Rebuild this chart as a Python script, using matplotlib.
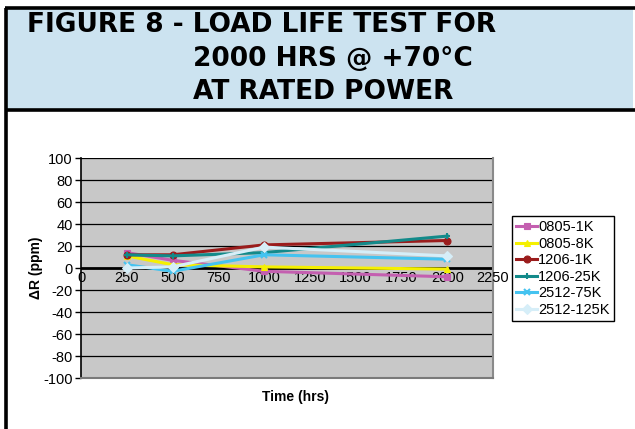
import matplotlib
matplotlib.use("Agg")
import matplotlib.pyplot as plt
from matplotlib.patches import Rectangle
from matplotlib.lines import Line2D

hours = [250, 500, 1000, 2000]
series_names = ["0805-1K", "0805-8K", "1206-1K", "1206-25K", "2512-75K", "2512-125K"]
v_0805_1k = [14, 7, -3, -8]
v_0805_8k = [11, 3, 1, -1]
v_1206_1k = [12, 12, 21, 25]
v_1206_25k = [12, 11, 14, 29]
v_2512_75k = [3, -3, 12, 8]
v_2512_125k = [0, 1, 19, 11]
values = [v_0805_1k, v_0805_8k, v_1206_1k, v_1206_25k, v_2512_75k, v_2512_125k]
colors = ["#c45fb0", "#f5f000", "#9a1c1c", "#138a8a", "#45c3f0", "#d6eef8"]
markers = ["s", "^", "o", "+", "x", "D"]
xticks = [0, 250, 500, 750, 1000, 1250, 1500, 1750, 2000, 2250]
yticks = list(range(-100, 101, 20))
title_lines = ["FIGURE 8 - LOAD LIFE TEST FOR", "2000 HRS @ +70°C", "AT RATED POWER"]

W, H = 635, 429
fig = plt.figure(figsize=(W / 100, H / 100), dpi=100)
fig.patch.set_facecolor("white")

def fx(px):
    return px / W

def fy(py):
    return 1 - py / H

# title box
fig.patches.append(Rectangle((fx(6), fy(110)), fx(627), (101) / H, transform=fig.transFigure,
                             facecolor="#cce3f0", edgecolor="none", zorder=0))
for (x0, y0, x1, y1) in [(5, 8, 635, 8), (5, 110, 635, 110), (5.5, 8, 5.5, 429)]:
    fig.lines.append(Line2D([fx(x0), fx(x1)], [fy(y0), fy(y1)], transform=fig.transFigure,
                            color="black", lw=2.6, solid_capstyle="butt"))

tfont = dict(family=["DejaVu Sans"], fontweight="bold", fontsize=19, color="black")
fig.text(fx(27), fy(25), title_lines[0], ha="left", va="center", **tfont)
fig.text(fx(193), fy(59), title_lines[1], ha="left", va="center", **tfont)
fig.text(fx(193), fy(92), title_lines[2], ha="left", va="center", **tfont)

# plot area
ax = fig.add_axes([fx(81), fy(378), fx(493) - fx(81), (378 - 158) / H])
ax.set_facecolor("#c8c8c8")
ax.set_xlim(0, 2250)
ax.set_ylim(-100, 100)
ax.spines["top"].set_visible(False)
ax.spines["right"].set_color("#8a8a8a")
ax.spines["right"].set_linewidth(1.5)
ax.spines["bottom"].set_color("#7a7a7a")
ax.spines["bottom"].set_linewidth(1.5)
ax.spines["left"].set_color("black")
ax.spines["left"].set_linewidth(1.2)

for yv in yticks:
    if yv == -100:
        continue
    ax.axhline(yv, color="black", lw=2.0 if yv == 0 else 0.9, zorder=1)

ax.set_yticks(yticks)
ax.set_yticklabels([str(v) for v in yticks])
ax.tick_params(axis="y", direction="out", length=4, width=1, labelsize=10.5, pad=2)
ax.set_xticks([])

for xv in xticks:
    ax.text(xv, -2.5, str(xv), ha="center", va="top", fontsize=10.5,
            family=["Liberation Sans", "DejaVu Sans"], zorder=3)

for name, vals, c, m in zip(series_names, values, colors, markers):
    ax.plot(hours, vals, color=c, lw=2.2, marker=m, markersize=5,
            markeredgewidth=1.5 if m in ("+", "x") else 0.8, markeredgecolor=c,
            label=name, zorder=4)

for lab in ax.get_yticklabels():
    lab.set_family(["Liberation Sans", "DejaVu Sans"])

fig.text(fx(36), fy(268), "ΔR (ppm)", rotation=90, ha="center", va="center",
         fontsize=10, fontweight="bold", family=["Liberation Sans", "DejaVu Sans"])
fig.text(fx(296), fy(397), "Time (hrs)", ha="center", va="center",
         fontsize=10, fontweight="bold", family=["Liberation Sans", "DejaVu Sans"])

leg = fig.legend(loc="upper left", bbox_to_anchor=(fx(512), fy(216)), frameon=True,
                 fancybox=False, edgecolor="black", framealpha=1,
                 prop=dict(family=["Liberation Sans", "DejaVu Sans"], size=10.5),
                 handlelength=1.4, handletextpad=0.1, labelspacing=0.17,
                 borderpad=0.3, borderaxespad=0)
leg.get_frame().set_linewidth(1.0)

fig.savefig("out.png", dpi=100)
